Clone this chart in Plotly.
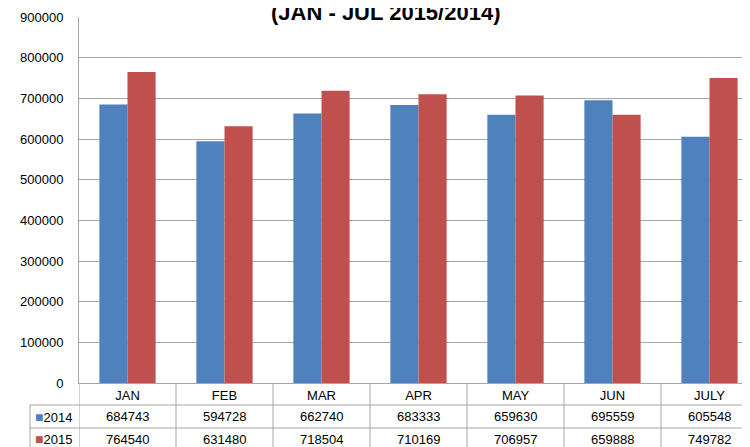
import plotly.graph_objects as go

months = ["JAN", "FEB", "MAR", "APR", "MAY", "JUN", "JULY"]
values_2014 = [684743, 594728, 662740, 683333, 659630, 695559, 605548]
values_2015 = [764540, 631480, 718504, 710169, 706957, 659888, 749782]
series_names = ["2014", "2015"]
title_text = "(JAN - JUL 2015/2014)"

BLUE = "#4F81BD"
RED = "#C0504D"
GRID = "#a6a6a6"
FONT = "Liberation Sans"

# the page body has an 8px default margin; the figure is sized to fill the rest
OFF = 8
W, H = 750 - OFF, 447 - OFF
# reference geometry (page pixels)
PL, PT, PB, PR = 79, 17, 383, 750
ML, MT = PL - OFF, PT - OFF
MB = (447 - PB)
MR = 750 - PR
PH = PB - PT
PW = PR - PL


def py(page_y):
    return (PB - page_y) / PH


def px(page_x):
    return (page_x - PL) / PW


fig = go.Figure()
fig.add_trace(go.Bar(x=months, y=values_2014, name=series_names[0],
                     marker=dict(color=BLUE, line=dict(width=0))))
fig.add_trace(go.Bar(x=months, y=values_2015, name=series_names[1],
                     marker=dict(color=RED, line=dict(width=0))))

n = len(months)
row_lines = [405, 428]
shapes = []
for i in range(n):
    shapes.append(dict(type="line", xref="x", yref="paper",
                       x0=i - 0.5, x1=i - 0.5, y0=0, y1=py(460),
                       line=dict(color=GRID, width=1)))
for r in row_lines:
    shapes.append(dict(type="line", xref="paper", yref="paper",
                       x0=px(30), x1=1, y0=py(r), y1=py(r),
                       line=dict(color=GRID, width=1)))
shapes.append(dict(type="line", xref="paper", yref="paper",
                   x0=px(30), x1=px(30),
                   y0=py(row_lines[0]), y1=py(460),
                   line=dict(color=GRID, width=1)))

annotations = []
row_centers = [416.5, 439]
for name, vals, col, yc in [(series_names[0], values_2014, BLUE, row_centers[0]),
                            (series_names[1], values_2015, RED, row_centers[1])]:
    for m, v in zip(months, vals):
        annotations.append(dict(x=m, y=py(yc), xref="x", yref="paper",
                                xanchor="center", yanchor="middle",
                                text=str(v), showarrow=False,
                                font=dict(family=FONT, size=13, color="#000")))
    annotations.append(dict(x=px(33), y=py(yc), xref="paper", yref="paper",
                            xanchor="left", yanchor="middle",
                            text=f"<span style='color:{col};font-size:14px'>■</span>{name}",
                            showarrow=False,
                            font=dict(family=FONT, size=13, color="#000")))
annotations.append(dict(x=px(386), y=1, xref="paper", yref="paper",
                        xanchor="center", yanchor="middle", yshift=5,
                        text=f"<b>{title_text}</b>", showarrow=False,
                        font=dict(family=FONT, size=22, color="#000")))

fig.update_layout(
    width=W, height=H,
    margin=dict(l=ML, r=MR, t=MT, b=MB, pad=0, autoexpand=False),
    paper_bgcolor="white", plot_bgcolor="white",
    barmode="group", bargap=0.42, bargroupgap=0,
    showlegend=False,
    shapes=shapes, annotations=annotations,
    font=dict(family=FONT, size=13, color="#000"),
    xaxis=dict(type="category", range=[-0.5, -0.5 + PW / 97.0],
               automargin=False,
               showgrid=False, showline=True, linecolor=GRID, linewidth=1,
               ticks="", ticklabelstandoff=0,
               tickfont=dict(family=FONT, size=13, color="#000")),
    yaxis=dict(range=[0, 900000], dtick=100000, tickformat="d",
               automargin=False,
               showgrid=True, gridcolor=GRID, gridwidth=1,
               showline=True, linecolor=GRID, linewidth=1,
               zeroline=False, ticks="", ticklabelstandoff=12,
               tickfont=dict(family=FONT, size=13, color="#000")),
)

fig.write_html("out.html")
